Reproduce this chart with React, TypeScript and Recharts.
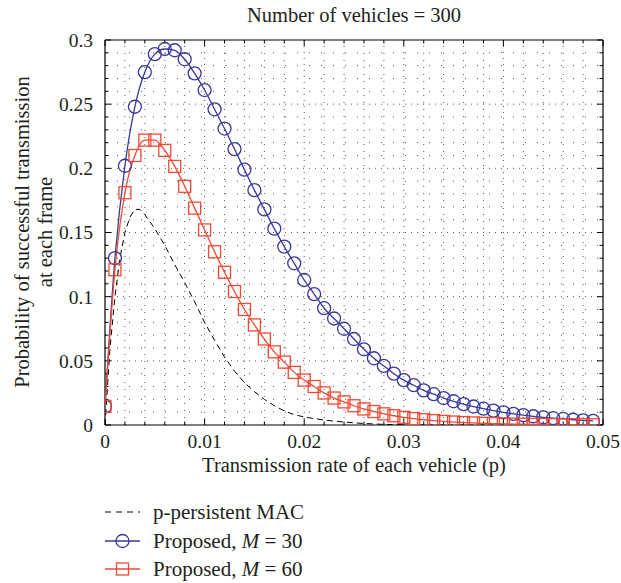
import React from 'react';
import { LineChart, Line, XAxis, YAxis, ReferenceLine } from 'recharts';

const pValues = [
  0, 0.001, 0.002, 0.003, 0.004, 0.005, 0.006, 0.007, 0.008, 0.009,
  0.01, 0.011, 0.012, 0.013, 0.014, 0.015, 0.016, 0.017, 0.018, 0.019,
  0.02, 0.021, 0.022, 0.023, 0.024, 0.025, 0.026, 0.027, 0.028, 0.029,
  0.03, 0.031, 0.032, 0.033, 0.034, 0.035, 0.036, 0.037, 0.038, 0.039,
  0.04, 0.041, 0.042, 0.043, 0.044, 0.045, 0.046, 0.047, 0.048, 0.049,
];

const m30Values = [
  0.0145, 0.13, 0.202, 0.248, 0.275, 0.289, 0.293, 0.292, 0.285, 0.274,
  0.261, 0.246, 0.231, 0.215, 0.199, 0.183, 0.168, 0.153, 0.139, 0.126,
  0.113, 0.102, 0.091, 0.083, 0.075, 0.067, 0.059, 0.052, 0.046, 0.04,
  0.035, 0.031, 0.027, 0.024, 0.021, 0.0185, 0.0163, 0.0144, 0.0127, 0.0112,
  0.0099, 0.0087, 0.0077, 0.0068, 0.006, 0.0053, 0.0047, 0.0041, 0.0036, 0.0032,
];

const m60Values = [
  0.0145, 0.121, 0.181, 0.21, 0.222, 0.222, 0.214, 0.2015, 0.186, 0.169,
  0.152, 0.135, 0.119, 0.104, 0.09, 0.078, 0.067, 0.057, 0.049, 0.041,
  0.035, 0.03, 0.025, 0.021, 0.018, 0.015, 0.0125, 0.0105, 0.0087, 0.0072,
  0.006, 0.005, 0.0041, 0.0034, 0.0028, 0.0023, 0.0019, 0.0016, 0.0013, 0.0011,
  0.0009, 0.0007, 0.0006, 0.0005, 0.0004, 0.0003, 0.00025, 0.0002, 0.00017, 0.00014,
];

const macP = [
  0, 0.0005, 0.001, 0.0015, 0.002, 0.0025, 0.003, 0.0035, 0.004, 0.005,
  0.006, 0.007, 0.008, 0.009, 0.01, 0.011, 0.012, 0.013, 0.014, 0.015,
  0.016, 0.017, 0.018, 0.019, 0.02, 0.021, 0.022, 0.023, 0.024, 0.025,
  0.026, 0.027, 0.028, 0.029, 0.03, 0.032, 0.035, 0.04, 0.045, 0.05,
];

const macValues = [
  0, 0.06, 0.1, 0.13, 0.15, 0.162, 0.168, 0.168, 0.164, 0.153,
  0.14, 0.125, 0.111, 0.096, 0.08, 0.066, 0.053, 0.042, 0.033, 0.026,
  0.02, 0.015, 0.011, 0.008, 0.0063, 0.005, 0.0039, 0.003, 0.0023, 0.0017,
  0.0012, 0.0008, 0.0005, 0.0003, 0.0002, 0.0001, 0.00005, 0, 0, 0,
];

const xTicks = [0, 0.01, 0.02, 0.03, 0.04, 0.05];
const xTickLabels = ['0', '0.01', '0.02', '0.03', '0.04', '0.05'];
const yTicks = [0, 0.05, 0.1, 0.15, 0.2, 0.25, 0.3];
const yTickLabels = ['0', '0.05', '0.1', '0.15', '0.2', '0.25', '0.3'];

const seriesNames = ['p-persistent MAC', 'Proposed, ', 'Proposed, '];
const mLabels = ['M', 'M'];
const mValues = ['30', '60'];

const BLUE = '#38389a';
const RED = '#ef4a33';
const FONT = "'Liberation Serif', 'Times New Roman', serif";
const TEXT = '#231f20';
const GRID = '#555';

const W = 621;
const H = 583;
const X_MAX = 0.05;
const Y_MAX = 0.3;
const PLOT_W = 498;
const PLOT_H = 385;

const m30Data = pValues.map((p, i) => ({ p, v: m30Values[i] }));
const m60Data = pValues.map((p, i) => ({ p, v: m60Values[i] }));
const macData = macP.map((p, i) => ({ p, v: macValues[i] }));

const minorX: number[] = [];
for (let i = 1; i < 25; i++) minorX.push(+(i * 0.002).toFixed(4));
const minorY: number[] = [];
for (let i = 1; i < 30; i++) minorY.push(+(i * 0.01).toFixed(4));

const isMajor = (arr: number[], v: number) => arr.some((t) => Math.abs(t - v) < 1e-9);

const xPx = X_MAX / PLOT_W;
const yPx = Y_MAX / PLOT_H;

const Square = (props: any) => {
  const { cx, cy, index } = props;
  if (cx == null || cy == null) return <g key={`s-${index}`} />;
  return (
    <rect
      key={`s-${index}`}
      x={cx - 6}
      y={cy - 6}
      width={12}
      height={12}
      fill="none"
      stroke={RED}
      strokeWidth={1.3}
    />
  );
};

export default function App() {
  const gridX = minorX.map((x) => (
    <ReferenceLine
      key={`gx-${x}`}
      x={x}
      stroke={GRID}
      strokeWidth={1}
      strokeDasharray={isMajor(xTicks, x) ? '1 5' : '1 6'}
    />
  ));
  const gridY = minorY.map((y) => (
    <ReferenceLine
      key={`gy-${y}`}
      y={y}
      stroke={GRID}
      strokeWidth={1}
      strokeDasharray={isMajor(yTicks, y) ? '1 5' : '1 11'}
    />
  ));

  const tickMarks: React.ReactNode[] = [];
  [0, ...minorX, X_MAX].forEach((x) => {
    const len = (isMajor(xTicks, x) ? 6 : 3.5) * yPx;
    tickMarks.push(
      <ReferenceLine key={`tb-${x}`} segment={[{ x, y: 0 }, { x, y: len }]} stroke="#000" strokeWidth={1} />,
      <ReferenceLine key={`tt-${x}`} segment={[{ x, y: Y_MAX }, { x, y: Y_MAX - len }]} stroke="#000" strokeWidth={1} />
    );
  });
  [0, ...minorY, Y_MAX].forEach((y) => {
    const len = (isMajor(yTicks, y) ? 6 : 3.5) * xPx;
    tickMarks.push(
      <ReferenceLine key={`tl-${y}`} segment={[{ x: 0, y }, { x: len, y }]} stroke="#000" strokeWidth={1} />,
      <ReferenceLine key={`tr-${y}`} segment={[{ x: X_MAX, y }, { x: X_MAX - len, y }]} stroke="#000" strokeWidth={1} />
    );
  });

  const legendRows = [512, 541, 569];

  return (
    <div style={{ position: 'absolute', left: 0, top: 0, width: W, height: H, background: '#fff' }}>
      <LineChart
        width={W}
        height={H}
        margin={{ top: 40, right: 18, bottom: 128, left: 0 }}
      >
        <XAxis
          dataKey="p"
          type="number"
          domain={[0, X_MAX]}
          ticks={xTicks}
          tickFormatter={(v: number) => xTickLabels[xTicks.findIndex((t) => Math.abs(t - v) < 1e-9)] ?? String(v)}
          allowDataOverflow
          axisLine={false}
          tickLine={false}
          height={30}
          tickSize={6}
          tickMargin={3}
          tick={{ fill: TEXT, fontSize: 19.5, fontFamily: FONT }}
        />
        <YAxis
          type="number"
          domain={[0, Y_MAX]}
          ticks={yTicks}
          tickFormatter={(v: number) => yTickLabels[yTicks.findIndex((t) => Math.abs(t - v) < 1e-9)] ?? String(v)}
          allowDataOverflow
          axisLine={false}
          tickLine={false}
          width={105}
          tickSize={6}
          tickMargin={6}
          tick={{ fill: TEXT, fontSize: 19.5, fontFamily: FONT }}
        />
        {gridX}
        {gridY}
        <ReferenceLine x={0} stroke="#000" strokeWidth={1.2} />
        <ReferenceLine x={X_MAX} stroke="#000" strokeWidth={1.2} />
        <ReferenceLine y={0} stroke="#000" strokeWidth={1.2} />
        <ReferenceLine y={Y_MAX} stroke="#000" strokeWidth={1.2} />
        {tickMarks}
        <Line
          data={macData}
          dataKey="v"
          type="linear"
          stroke="#000"
          strokeWidth={1}
          strokeDasharray="6 4"
          dot={false}
          isAnimationActive={false}
        />
        <Line
          data={m30Data}
          dataKey="v"
          type="monotone"
          stroke={BLUE}
          strokeWidth={1.3}
          dot={{ r: 6.5, fill: 'none', stroke: BLUE, strokeWidth: 1.3 }}
          isAnimationActive={false}
        />
        <Line
          data={m60Data}
          dataKey="v"
          type="monotone"
          stroke={RED}
          strokeWidth={1.3}
          dot={Square}
          isAnimationActive={false}
        />
        <text x={354} y={22} textAnchor="middle" fontSize={20.5} fontFamily={FONT} fill={TEXT}>
          Number of vehicles = 300
        </text>
        <text x={354} y={472} textAnchor="middle" fontSize={20.5} fontFamily={FONT} fill={TEXT}>
          Transmission rate of each vehicle (p)
        </text>
        <text x={29} y={232} transform="rotate(-90 29 232)" textAnchor="middle" fontSize={20.5} fontFamily={FONT} fill={TEXT}>
          Probability of successful transmission
        </text>
        <text x={52} y={232} transform="rotate(-90 52 232)" textAnchor="middle" fontSize={20.5} fontFamily={FONT} fill={TEXT}>
          at each frame
        </text>
        <g>
          <line x1={105} x2={140} y1={legendRows[0]} y2={legendRows[0]} stroke="#000" strokeWidth={1.2} strokeDasharray="6 5" />
          <text x={153} y={legendRows[0]} dy="0.35em" fontSize={21} fontFamily={FONT} fill={TEXT}>{seriesNames[0]}</text>
          <line x1={105} x2={140} y1={legendRows[1]} y2={legendRows[1]} stroke={BLUE} strokeWidth={1.3} />
          <circle cx={122.5} cy={legendRows[1]} r={6.5} fill="none" stroke={BLUE} strokeWidth={1.3} />
          <text x={153} y={legendRows[1]} dy="0.35em" fontSize={21} fontFamily={FONT} fill={TEXT}>
            {seriesNames[1]}<tspan fontStyle="italic">{mLabels[0]}</tspan> = {mValues[0]}
          </text>
          <line x1={105} x2={140} y1={legendRows[2]} y2={legendRows[2]} stroke={RED} strokeWidth={1.3} />
          <rect x={116.5} y={legendRows[2] - 6} width={12} height={12} fill="none" stroke={RED} strokeWidth={1.3} />
          <text x={153} y={legendRows[2]} dy="0.35em" fontSize={21} fontFamily={FONT} fill={TEXT}>
            {seriesNames[2]}<tspan fontStyle="italic">{mLabels[1]}</tspan> = {mValues[1]}
          </text>
        </g>
      </LineChart>
    </div>
  );
}
